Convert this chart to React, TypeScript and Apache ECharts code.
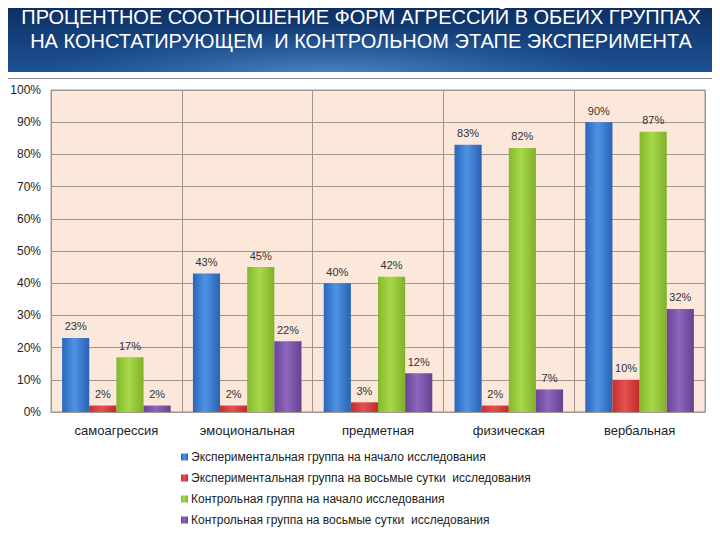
import React, { useEffect, useRef } from "react";
import * as echarts from "echarts";

const categories = ["самоагрессия", "эмоциональная", "предметная", "физическая", "вербальная"];
const seriesNames = [
  "Экспериментальная группа на начало исследования",
  "Экспериментальная группа на восьмые сутки  исследования",
  "Контрольная группа на начало исследования",
  "Контрольная группа на восьмые сутки  исследования",
];
const expStart = [23, 43, 40, 83, 90];
const expDay8 = [2, 2, 3, 2, 10];
const ctrlStart = [17, 45, 42, 82, 87];
const ctrlDay8 = [2, 22, 12, 7, 32];
const titleLines = [
  "ПРОЦЕНТНОЕ СООТНОШЕНИЕ ФОРМ АГРЕССИЙ В ОБЕИХ ГРУППАХ",
  "НА КОНСТАТИРУЮЩЕМ  И КОНТРОЛЬНОМ ЭТАПЕ ЭКСПЕРИМЕНТА",
];

const palette = [
  ["#2A66BC", "#4E93E4", "#2A62B2"],
  ["#C22E2E", "#E65050", "#BE2C2C"],
  ["#84B82C", "#A8D84A", "#80B02A"],
  ["#6A4496", "#8E66BE", "#66428F"],
];

function grad(c: string[]) {
  return new echarts.graphic.LinearGradient(0, 0, 1, 0, [
    { offset: 0, color: c[0] },
    { offset: 0.45, color: c[1] },
    { offset: 1, color: c[2] },
  ]);
}

export default function App() {
  const ref = useRef<HTMLDivElement>(null);
  useEffect(() => {
    const chart = echarts.init(ref.current!, undefined, { renderer: "svg" });
    const data = [expStart, expDay8, ctrlStart, ctrlDay8];
    const titleFont = "normal 20px 'Liberation Sans', Arial, sans-serif";
    chart.setOption({
      animation: false,
      backgroundColor: "#ffffff",
      textStyle: { fontFamily: "Liberation Sans, Arial, sans-serif" },
      graphic: [
        {
          type: "rect",
          shape: { x: 0, y: 0, width: 720, height: 72 },
          style: {
            fill: new echarts.graphic.LinearGradient(0, 0, 0, 1, [
              { offset: 0, color: "#0C2C5E" },
              { offset: 1, color: "#1C5294" },
            ]),
          },
          z: 0,
        },
        {
          type: "ellipse",
          shape: { cx: 330, cy: 80, rx: 300, ry: 55 },
          style: {
            fill: new echarts.graphic.RadialGradient(0.5, 0.5, 0.5, [
              { offset: 0, color: "rgba(95,150,210,0.85)" },
              { offset: 1, color: "rgba(60,110,180,0)" },
            ]),
          },
          z: 1,
        },
        {
          type: "rect",
          shape: { x: 0, y: 72, width: 720, height: 468 },
          style: { fill: "#ffffff" },
          z: 2,
        },
        {
          type: "rect",
          shape: { x: 3.5, y: 78.5, width: 713, height: 459 },
          style: { fill: "none", stroke: "#8a8a8a", lineWidth: 1 },
          z: 3,
        },
        {
          type: "text",
          x: 361,
          y: 17,
          style: {
            text: titleLines[0],
            fill: "#ffffff",
            font: titleFont,
            align: "center",
            verticalAlign: "middle",
          },
          z: 5,
        },
        {
          type: "text",
          x: 361,
          y: 41,
          style: {
            text: titleLines[1],
            fill: "#ffffff",
            font: titleFont,
            align: "center",
            verticalAlign: "middle",
          },
          z: 5,
        },
      ],
      grid: {
        left: 51,
        right: 15,
        top: 90,
        bottom: 128,
        show: true,
        backgroundColor: "#FBE8DA",
        borderColor: "#A0968E",
        borderWidth: 1,
        z: 3,
      },
      legend: {
        orient: "vertical",
        left: 176,
        top: 446,
        itemWidth: 7,
        itemHeight: 7,
        itemGap: 9,
        icon: "rect",
        textStyle: { fontSize: 12, color: "#222", padding: [0, 0, 0, -2] },
        data: seriesNames,
        z: 5,
      },
      xAxis: {
        type: "category",
        data: categories,
        z: 5,
        axisTick: { show: false },
        axisLine: { lineStyle: { color: "#A0968E" } },
        axisLabel: { fontSize: 13, color: "#222", margin: 12 },
        splitLine: { show: true, lineStyle: { color: "#A0968E", width: 1 } },
      },
      yAxis: {
        type: "value",
        min: 0,
        max: 100,
        interval: 10,
        z: 5,
        axisLabel: { formatter: "{value}%", fontSize: 12, color: "#222", margin: 10 },
        axisLine: { show: false },
        axisTick: { show: false },
        splitLine: { lineStyle: { color: "#A0968E", width: 1 } },
      },
      series: data.map((d, i) => ({
        name: seriesNames[i],
        type: "bar",
        data: d,
        barGap: "0%",
        barCategoryGap: "17%",
        itemStyle: { color: grad(palette[i]) },
        label: {
          show: true,
          position: "top",
          distance: 6,
          formatter: "{c}%",
          fontSize: 11,
          color: "#333",
        },
        z: 6,
      })),
      color: palette.map((p) => p[1]),
    });
    return () => chart.dispose();
  }, []);
  return <div ref={ref} style={{ width: 720, height: 540, margin: -8 }} />;
}
